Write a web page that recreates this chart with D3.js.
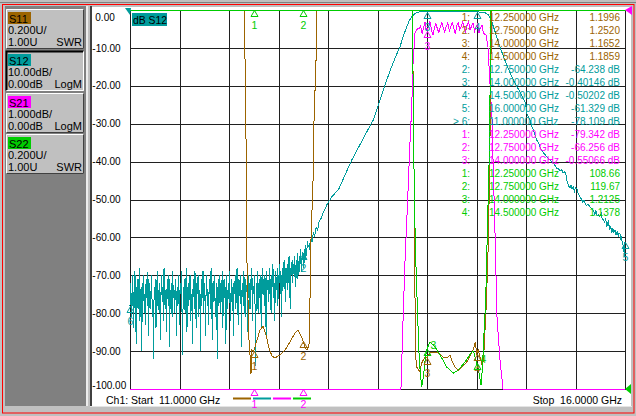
<!DOCTYPE html>
<html>
<head>
<meta charset="utf-8">
<script src="https://cdnjs.cloudflare.com/ajax/libs/d3/7.8.5/d3.min.js"></script>
<style>
    body { margin: 0; background: #c0c0c0; }
    svg { display: block; font-family: "Liberation Sans", Arial, sans-serif; }
</style>
</head>
<body>
<svg id="chart" width="636" height="416"></svg>
<script>
// ---- sweep / axis ----
var fStart = 11.0, fStop = 16.0;
var dbTicks = [0, -10, -20, -30, -40, -50, -60, -70, -80, -90, -100];
var freqDivs = [11, 11.5, 12, 12.5, 13, 13.5, 14, 14.5, 15, 15.5, 16];

// ---- S12 (dB), noise floor, 801-pt sweep grid (6.25 MHz) from 11.00 GHz ----
var s12NoiseStep = 0.00625;
var s12NoiseDb = [
    -78.1, -72, -76, -81, -70, -75, -84, -73, -69, -77, -88, -74, -71, -79, -75, -68, -82, -76, -73, -90, -72, -77, -70, -80,
    -75, -83, -71, -74, -78, -69, -86, -76, -72, -79, -74, -70, -81, -77, -92, -73, -75, -71, -84, -76, -69, -78, -74, -80,
    -72, -87, -75, -70, -77, -73, -82, -68, -76, -79, -74, -85, -71, -75, -78, -70, -89, -74, -77, -72, -81, -69, -76, -73,
    -80, -75, -71, -86, -74, -78, -70, -76, -83, -72, -75, -69, -79, -91, -73, -77, -71, -80, -74, -68, -85, -76, -72, -78,
    -74, -70, -82, -75, -77, -88, -71, -73, -79, -69, -76, -84, -72, -75, -70, -81, -77, -74, -90, -71, -78, -73, -69, -80,
    -75, -72, -86, -74, -70, -78, -76, -83, -71, -73, -79, -68, -75, -87, -72, -77, -70, -74, -81, -76, -72, -92, -73, -78,
    -70, -75, -80, -72, -77, -69, -84, -74, -71, -76, -73, -88, -70, -75, -79, -72, -74, -69, -82, -76, -71, -78, -73, -86,
    -72, -75, -70, -79, -74, -68, -77, -83, -71, -73, -76, -70, -89, -74, -72, -78, -69, -75, -81, -71, -74, -73, -85, -70,
    -76, -72, -79, -71, -74, -68, -82, -73, -75, -70, -77, -94, -72, -74, -69, -80, -73, -71, -76, -70, -84, -72, -68, -75,
    -71, -78, -70, -73, -86, -69, -74, -72, -77, -68, -75, -71, -80, -70, -73, -67, -76, -72, -82, -69, -71, -74, -68, -78,
    -70, -72, -67, -75, -69, -81, -71, -68, -73, -66, -70, -77, -68, -72, -67, -74, -69, -65, -71, -79, -68, -70, -66, -72,
    -67, -69, -65, -73, -68, -66, -71, -64, -68, -70, -65, -67, -63, -69, -66, -64, -64.2, -68, -63, -66, -62, -65, -63, -61,
    -62.5
];
// ---- S12 (dB), rest of the sweep ----
var s12Freq = [12.81, 12.82, 12.83, 12.84, 12.852, 12.865, 12.88, 12.895, 12.91, 12.919, 12.935, 12.953, 12.97, 12.985,
    13.0, 13.02, 13.04, 13.06, 13.08, 13.104, 13.14, 13.172, 13.21, 13.242, 13.28, 13.313, 13.35, 13.384, 13.42, 13.458,
    13.49, 13.525, 13.56, 13.593, 13.625, 13.657, 13.69, 13.727, 13.76, 13.795, 13.82, 13.845, 13.87, 13.896, 13.929, 13.96,
    14.0, 14.05, 14.1, 14.15, 14.2, 14.25, 14.3, 14.35, 14.4, 14.45, 14.5, 14.55, 14.586, 14.619, 14.654, 14.687, 14.737,
    14.77, 14.805, 14.84, 14.872, 14.905, 14.939, 14.965, 14.99, 15.0, 15.007, 15.02, 15.04, 15.057, 15.074, 15.09, 15.108,
    15.125, 15.141, 15.16, 15.175, 15.19, 15.209, 15.24, 15.276, 15.29, 15.31, 15.325, 15.343, 15.36, 15.375, 15.394, 15.405,
    15.415, 15.427, 15.444, 15.455, 15.465, 15.478, 15.49, 15.5, 15.512, 15.525, 15.545, 15.56, 15.575, 15.585, 15.596, 15.61,
    15.625, 15.646, 15.66, 15.68, 15.695, 15.705, 15.72, 15.731, 15.745, 15.76, 15.77, 15.781, 15.795, 15.805, 15.815, 15.825,
    15.832, 15.845, 15.855, 15.866, 15.878, 15.888, 15.899, 15.91, 15.92, 15.933, 15.94, 15.949, 15.958, 15.965, 15.972,
    15.977, 15.983, 15.99, 15.995, 16.0];
var s12Db = [-61.8, -63.5, -60.4, -61.2, -58.8, -59.6, -57.4, -58.1, -55.9, -55.4, -54.8, -53.2, -52.6, -51.5,
    -50.9, -50.1, -49.2, -48.7, -48.0, -47.5, -45.4, -43.5, -41.3, -39.5, -37.6, -36.0, -34.2, -32.5, -30.8, -29.0,
    -26.5, -23.8, -21.1, -18.5, -16.2, -14.0, -11.9, -9.7, -7.0, -4.4, -2.9, -1.8, -1.1, -0.7, -0.45, -0.38,
    -0.40, -0.33, -0.31, -0.34, -0.36, -0.35, -0.38, -0.41, -0.44, -0.46, -0.50, -0.56, -0.70, -1.3, -3.1, -5.7, -9.7,
    -12.1, -14.5, -16.6, -18.5, -20.1, -21.6, -23.0, -24.3, -25.6, -27.3, -27.9, -29.0, -30.6, -31.7, -33.0, -34.3,
    -35.0, -36.1, -37.0, -37.6, -38.1, -38.7, -39.5, -40.4, -40.9, -41.7, -41.9, -42.4, -42.2, -42.9, -42.7, -43.6,
    -45.3, -46.2, -47.0, -46.1, -47.3, -46.7, -47.8, -46.9, -47.0, -48.2, -49.3, -49.9, -50.8, -50.2, -51.0, -51.6,
    -51.3, -51.9, -52.4, -52.8, -53.9, -52.9, -54.3, -54.1, -54.6, -53.6, -55.2, -55.4, -56.1, -55.0, -57.2, -56.3,
    -55.8, -57.9, -57.0, -58.9, -57.6, -58.7, -58.0, -59.4, -58.5, -59.8, -58.9, -59.0, -60.6, -59.7, -61.6,
    -61.1, -62.9, -63.8, -65.2, -61.3];

// ---- S21 (dB) ----
var s21Freq = [11.0, 11.5, 12.0, 12.25, 12.5, 12.75, 13.0, 13.3, 13.5, 13.65, 13.7, 13.737, 13.754, 13.778, 13.805,
    13.828, 13.845, 13.859, 13.879, 13.909, 13.92, 13.935, 13.95, 13.965, 13.98, 13.99, 14.0, 14.015, 14.03, 14.045,
    14.06, 14.075, 14.09, 14.105, 14.12, 14.135, 14.15, 14.165, 14.18, 14.195, 14.21, 14.225, 14.24, 14.255, 14.27,
    14.285, 14.3, 14.315, 14.33, 14.345, 14.36, 14.375, 14.39, 14.405, 14.42, 14.435, 14.45, 14.465, 14.48, 14.495,
    14.51, 14.525, 14.54, 14.555, 14.57, 14.585, 14.596, 14.616, 14.636, 14.657, 14.667, 14.687, 14.707, 14.737,
    14.768, 14.8, 15.0, 15.5, 16.0];
var s21Db = [-92, -88, -83, -79.342, -73, -66.256, -55, -38, -25, -14, -11.5, -10.0, -8.5, -6.6, -5.0,
    -3.5, -2.6, -1.4, -0.6, -0.47, -0.50, -0.42, -0.62, -0.48, -0.33, -0.49, -0.551, -0.45, -0.30, -0.52,
    -0.66, -0.47, -0.36, -0.50, -0.60, -0.44, -0.32, -0.49, -0.58, -0.43, -0.34, -0.55, -0.45, -0.31, -0.48,
    -0.63, -0.42, -0.33, -0.52, -0.44, -0.30, -0.47, -0.57, -0.40, -0.32, -0.52, -0.43, -0.34, -0.56, -0.45,
    -0.38, -0.60, -0.47, -0.40, -0.62, -0.64, -0.66, -0.98, -1.93, -2.9, -3.96, -5.88, -8.1, -9.23,
    -10.5, -12.5, -30, -55, -70];

// ---- S11 (SWR) ----
var s11Freq = [11.0, 12.14, 12.152, 12.162, 12.177, 12.182, 12.192, 12.202, 12.212, 12.222, 12.232, 12.25, 12.283,
    12.313, 12.343, 12.374, 12.404, 12.434, 12.465, 12.515, 12.566, 12.616, 12.667, 12.697, 12.727, 12.75, 12.768,
    12.788, 12.808, 12.818, 12.828, 12.849, 12.859, 12.879, 12.884, 12.9, 13.5, 13.84, 13.852, 13.862, 13.872, 13.879,
    13.889, 13.896, 13.929, 13.946, 13.98, 14.0, 14.03, 14.061, 14.111, 14.162, 14.199, 14.232, 14.249, 14.283, 14.316,
    14.351, 14.401, 14.451, 14.475, 14.49, 14.5, 14.518, 14.535, 14.556, 14.571, 14.586, 14.601, 14.619, 14.631, 14.641,
    14.652, 14.67, 16.0];
var s11Swr = [9, 3.5, 3.0, 2.736, 2.103, 1.654, 1.47, 1.259, 1.18, 1.079, 1.206, 1.1996, 1.259,
    1.311, 1.332, 1.285, 1.216, 1.174, 1.164, 1.179, 1.206, 1.248, 1.296, 1.311, 1.28, 1.252, 1.216,
    1.206, 1.232, 1.47, 1.786, 2.103, 2.42, 2.736, 3.0, 3.5, 6, 3.5, 3.0, 2.525, 1.997, 1.47,
    1.153, 1.116, 1.09, 1.137, 1.169, 1.1652, 1.19, 1.19, 1.19, 1.169, 1.164, 1.179, 1.153, 1.116, 1.10,
    1.116, 1.142, 1.19, 1.22, 1.25, 1.1859, 1.206, 1.169, 1.127, 1.15, 1.311, 1.47, 1.77, 2.103, 2.525,
    3.0, 3.5, 8];

// ---- S22 (SWR) ----
var s22Freq = [11.0, 13.84, 13.851, 13.862, 13.872, 13.889, 13.906, 13.922, 13.946, 13.962, 13.985, 14.0, 14.03,
    14.081, 14.131, 14.199, 14.266, 14.316, 14.384, 14.451, 14.47, 14.49, 14.5, 14.52, 14.546, 14.56, 14.576,
    14.593, 14.609, 14.626, 14.636, 14.646, 14.66, 16.0];
var s22Swr = [9, 4, 3.0, 2.525, 1.997, 1.644, 1.38, 1.153, 1.01, 1.06, 1.17, 1.2125, 1.248,
    1.222, 1.18, 1.116, 1.084, 1.10, 1.142, 1.195, 1.2, 1.16, 1.1378, 1.10, 1.02, 1.116, 1.296,
    1.47, 1.823, 2.17, 2.525, 3.0, 4, 9];

// ---- markers ----
var s11MkNum = [1, 2, 3, 4];
var s11MkFreq = [12.25, 12.75, 14.0, 14.5];
var s11MkVal = [1.1996, 1.2520, 1.1652, 1.1859];
var s12MkNum = [2, 3, 4, 5, 6];
var s12MkFreq = [12.75, 14.0, 14.5, 16.0, 11.0];
var s12MkVal = [-64.238, -0.40146, -0.50202, -61.329, -78.109];
var s21MkNum = [1, 2, 3];
var s21MkFreq = [12.25, 12.75, 14.0];
var s21MkVal = [-79.342, -66.256, -0.55066];
var s22MkNum = [1, 2, 3, 4];
var s22MkFreq = [12.25, 12.75, 14.0, 14.5];
var s22MkVal = [108.66, 119.67, 1.2125, 1.1378];
var activeMarker = 6;

var colors = {
    S11: '#9c6400',
    S12: '#009c9c',
    S21: '#ff00ff',
    S22: '#00cc00'
};

// plot box
var L = 130, R = 625, T = 10, B = 389;

var x = d3.scaleLinear().domain([fStart, fStop]).range([L, R]);
var yS12 = d3.scaleLinear().domain([-100, 0]).range([B, T]).clamp(true);   // 10 dB/div, ref 0 dB
var yS21 = d3.scaleLinear().domain([-10, 0]).range([B, T]).clamp(true);    // 1 dB/div, ref 0 dB
var ySwr = d3.scaleLinear().domain([1, 3]).range([B, T]).clamp(true);      // 0.2 U/div, ref 1.00 U

var svg = d3.select('#chart');

// ---- window frame ----
svg.append('rect').attr('width', 636).attr('height', 416).attr('fill', '#c0c0c0');
svg.append('line').attr('x1', 0).attr('x2', 636).attr('y1', 2.5).attr('y2', 2.5).attr('stroke', '#808080');
svg.append('rect')
    .attr('x', 2.5).attr('y', 4.5).attr('width', 631.5).attr('height', 408.5)
    .attr('fill', 'none').attr('stroke', '#ff0000');
svg.append('rect').attr('x', 5).attr('y', 6).attr('width', 81).attr('height', 400).attr('fill', '#808080');
svg.append('rect').attr('x', 86).attr('y', 6).attr('width', 2).attr('height', 400).attr('fill', '#ececec');
svg.append('rect').attr('x', 90).attr('y', 6).attr('width', 2).attr('height', 401).attr('fill', '#404040');
svg.append('rect').attr('x', 92).attr('y', 7).attr('width', 539).attr('height', 399).attr('fill', '#ffffff');
svg.append('line').attr('x1', 90).attr('x2', 632).attr('y1', 406.5).attr('y2', 406.5).attr('stroke', '#e4e4e4');

// ---- channel buttons ----
var chans = [
    { name: 'S11', scale: '0.200U/', ref: '1.00U', fmt: 'SWR', y: 9 },
    { name: 'S12', scale: '10.00dB/', ref: '0.00dB', fmt: 'LogM', y: 51, active: true },
    { name: 'S21', scale: '1.000dB/', ref: '0.00dB', fmt: 'LogM', y: 93 },
    { name: 'S22', scale: '0.200U/', ref: '1.00U', fmt: 'SWR', y: 134 }
];
chans.forEach(function(c) {
    var g = svg.append('g').attr('transform', 'translate(6,' + c.y + ')');
    var w = 78, h = 40;
    g.append('rect').attr('width', w).attr('height', h).attr('fill', '#c0c0c0');
    var hi = c.active ? '#000000' : '#ffffff';
    var lo = c.active ? '#ffffff' : '#404040';
    g.append('path').attr('d', 'M0.5,' + (h - 0.5) + 'V0.5H' + (w - 0.5))
        .attr('fill', 'none').attr('stroke', hi).attr('stroke-width', c.active ? 2 : 1);
    g.append('path').attr('d', 'M0.5,' + (h - 0.5) + 'H' + (w - 0.5) + 'V0.5')
        .attr('fill', 'none').attr('stroke', lo);
    g.append('rect').attr('x', 2).attr('y', 3).attr('width', 23).attr('height', 12).attr('fill', colors[c.name]);
    g.append('text').attr('x', 3).attr('y', 13.5).attr('font-size', '11px').attr('fill', '#000').text(c.name);
    g.append('text').attr('x', 2).attr('y', 25).attr('font-size', '11px').attr('fill', '#000').text(c.scale);
    g.append('text').attr('x', 2).attr('y', 36.5).attr('font-size', '11px').attr('fill', '#000').text(c.ref);
    g.append('text').attr('x', 76).attr('y', 36.5).attr('font-size', '11px').attr('fill', '#000')
        .attr('text-anchor', 'end').text(c.fmt);
});

// ---- graticule ----
var grid = svg.append('g').attr('shape-rendering', 'crispEdges');
grid.selectAll('line.v').data(freqDivs).enter().append('line')
    .attr('x1', function(d) { return Math.round(x(d)) + 0.5; })
    .attr('x2', function(d) { return Math.round(x(d)) + 0.5; })
    .attr('y1', T).attr('y2', B + 0.5)
    .attr('stroke', '#202020');
grid.selectAll('line.h').data(dbTicks).enter().append('line')
    .attr('x1', L).attr('x2', R + 1)
    .attr('y1', function(d) { return Math.round(yS12(d)) + 0.5; })
    .attr('y2', function(d) { return Math.round(yS12(d)) + 0.5; })
    .attr('stroke', '#202020');

svg.selectAll('text.ylab').data(dbTicks).enter().append('text')
    .attr('x', function(d) { return d < 0 ? 92.3 : 95.3; })
    .attr('y', function(d) {
        var yy = yS12(d) + 3.6;
        return Math.max(T + 11, Math.min(B - 0.5, yy));
    })
    .attr('font-size', '10px')
    .attr('fill', '#000')
    .text(function(d) { return d.toFixed(2); });

// ---- traces ----
function pairs(fs, vs) {
    return fs.map(function(f, i) { return [f, vs[i]]; });
}
var s12Data = s12NoiseDb.map(function(v, i) { return [fStart + i * s12NoiseStep, v]; })
    .concat(pairs(s12Freq, s12Db));

var traces = [
    { name: 'S12', data: s12Data, y: yS12 },
    { name: 'S21', data: pairs(s21Freq, s21Db), y: yS21 },
    { name: 'S11', data: pairs(s11Freq, s11Swr), y: ySwr },
    { name: 'S22', data: pairs(s22Freq, s22Swr), y: ySwr }
];
traces.forEach(function(t) {
    var line = d3.line()
        .x(function(d) { return x(d[0]); })
        .y(function(d) { return t.y(d[1]); });
    svg.append('path')
        .datum(t.data)
        .attr('d', line)
        .attr('fill', 'none')
        .attr('stroke', colors[t.name])
        .attr('stroke-width', 1)
        .attr('shape-rendering', 'crispEdges');
});

// top edge of graticule
svg.append('line').attr('x1', L).attr('x2', R + 1).attr('y1', T + 0.5).attr('y2', T + 0.5)
    .attr('stroke', colors.S22).attr('shape-rendering', 'crispEdges');

// ---- reference / channel flags ----
svg.append('path').attr('d', 'M125,8L131,8L130,15Z').attr('fill', colors.S12);
svg.append('rect').attr('x', 132).attr('y', 13).attr('width', 35).attr('height', 13).attr('fill', colors.S12);
svg.append('text').attr('x', 133).attr('y', 23.5).attr('font-size', '10.4px').attr('fill', '#000').text('dB S12');
svg.append('path').attr('d', 'M625,10L632,6L632,15Z').attr('fill', colors.S21);
svg.append('path').attr('d', 'M625,389L631,384L631,394Z').attr('fill', colors.S22);

// ---- marker symbols ----
var mkSets = [
    { name: 'S12', num: s12MkNum, freq: s12MkFreq, val: s12MkVal, y: yS12 },
    { name: 'S21', num: s21MkNum, freq: s21MkFreq, val: s21MkVal, y: yS21 },
    { name: 'S11', num: s11MkNum, freq: s11MkFreq, val: s11MkVal, y: ySwr },
    { name: 'S22', num: s22MkNum, freq: s22MkFreq, val: s22MkVal, y: ySwr, labelUp: true }
];
mkSets.forEach(function(m) {
    var g = svg.append('g');
    m.num.forEach(function(n, i) {
        var px = Math.round(x(m.freq[i])) + 0.5;
        var py = Math.round(m.y(m.val[i])) + 0.5;
        var onScale = py > T + 1 && py < B - 1;
        g.append('path')
            .attr('d', 'M' + px + ',' + py + 'l3.5,6h-7z')
            .attr('fill', 'none').attr('stroke', colors[m.name]);
        g.append('text')
            .attr('x', px + (m.labelUp && onScale ? 6 : 0))
            .attr('y', m.labelUp && onScale ? py - 1 : py + 18.5)
            .attr('text-anchor', 'middle').attr('font-size', '10.5px')
            .attr('fill', colors[m.name]).text(n);
    });
});

// ---- marker read-out table ----
var rows = [];
mkSets.slice().sort(function(a, b) { return a.name < b.name ? -1 : 1; }).forEach(function(m) {
    m.num.forEach(function(n, i) {
        rows.push({
            color: colors[m.name],
            id: (n === activeMarker && m.name === 'S12' ? '> ' : '') + n + ':',
            freq: m.freq[i].toFixed(6) + ' GHz',
            val: m.val[i].toPrecision(5) + (m.name === 'S12' || m.name === 'S21' ? ' dB' : '')
        });
    });
});
var table = svg.append('g').attr('font-size', '10px');
rows.forEach(function(r, i) {
    var yy = 20.5 + i * 13;
    table.append('text').attr('x', 470).attr('y', yy).attr('text-anchor', 'end')
        .attr('fill', r.color).style('white-space', 'pre').text(r.id);
    table.append('text').attr('x', 489).attr('y', yy).attr('fill', r.color).text(r.freq);
    table.append('text').attr('x', 620).attr('y', yy).attr('text-anchor', 'end').attr('fill', r.color).text(r.val);
});

// ---- footer ----
var legendX = [233, 253, 273, 293];
['S11', 'S12', 'S21', 'S22'].forEach(function(n, i) {
    svg.append('rect').attr('x', legendX[i]).attr('y', 397.5).attr('width', 18).attr('height', 2)
        .attr('fill', colors[n]);
});
svg.append('text').attr('x', 106).attr('y', 404).attr('font-size', '10.5px').attr('fill', '#000')
    .style('white-space', 'pre').text('Ch1: Start  ' + fStart.toFixed(4) + ' GHz');
svg.append('text').attr('x', 622).attr('y', 404).attr('font-size', '10.5px').attr('fill', '#000')
    .attr('text-anchor', 'end').style('white-space', 'pre').text('Stop  ' + fStop.toFixed(4) + ' GHz');
</script>
</body>
</html>
